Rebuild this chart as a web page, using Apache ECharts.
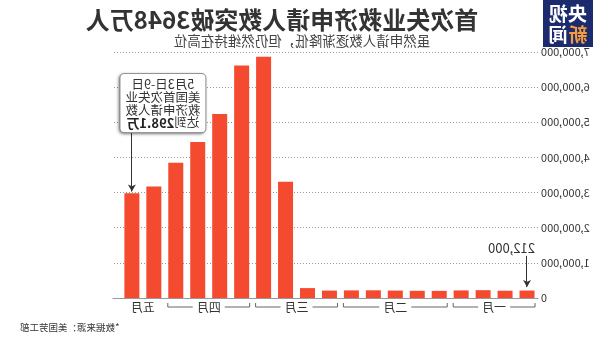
<!DOCTYPE html>
<html>
<head>
<meta charset="utf-8">
<script src="https://cdn.jsdelivr.net/npm/echarts@6/dist/echarts.min.js"></script>
<style>
  html, body { margin: 0; padding: 0; background: #fff; }
  /* the whole graphic is shown mirrored left-to-right */
  #chart { width: 600px; height: 337px; transform: scaleX(-1); }
</style>
</head>
<body>
<div id="chart"></div>
<script>
// Weekly initial jobless claims, US, 2020 (week ending)
const weeks = ['1月4日','1月11日','1月18日','1月25日','2月1日','2月8日','2月15日','2月22日','2月29日',
  '3月7日','3月14日','3月21日','3月28日','4月4日','4月11日','4月18日','4月25日','5月2日','5月9日'];
const claims = [212000, 207000, 223000, 216000, 203000, 205000, 211000, 219000, 217000,
  211000, 282000, 3307000, 6867000, 6615000, 5237000, 4442000, 3846000, 3176000, 2981000];

// month groups: first week index, last week index, label
const monthStart = [0, 4, 9, 13, 17];
const monthEnd   = [3, 8, 12, 16, 18];
const monthNames = ['一月', '二月', '三月', '四月', '五月'];

const yTicks = [0, 1000000, 2000000, 3000000, 4000000, 5000000, 6000000, 7000000];

const titleText = '首次失业救济申请人数突破3648万人';
const subtitleText = '虽然申请人数逐渐降低，但仍然维持在高位';
const sourceText = '*数据来源：美国劳工部';

// callouts
const calloutWeek = 18;
const calloutLines = ['5月3日-9日', '美国首次失业', '救济申请人数'];
const calloutPrefix = '达到';
const calloutValue = '298.1万';
const firstWeekLabel = '212,000';

const BAR = '#f44a30';
const FONT = '"Noto Sans CJK SC", "Noto Sans", sans-serif';

const chart = echarts.init(document.getElementById('chart'));

const monthData = monthStart.map((s, i) => [s, monthEnd[i], 0, i]);

chart.setOption({
  backgroundColor: '#fff',
  animation: false,
  textStyle: { fontFamily: FONT },
  title: [
    { text: titleText, left: 313, top: 3, textAlign: 'center',
      textStyle: { fontSize: 24, fontWeight: 'bold', color: '#333', fontFamily: FONT } },
    { text: subtitleText, left: 293, top: 29, textAlign: 'center',
      textStyle: { fontSize: 13.5, fontWeight: 'normal', color: '#444', fontFamily: FONT } },
    { text: sourceText, right: 15, top: 318,
      textStyle: { fontSize: 9.5, fontWeight: 'normal', color: '#333', fontFamily: FONT } }
  ],
  graphic: [{
    type: 'group', left: 7, top: 0,
    children: [
      { type: 'rect', shape: { x: 0, y: 0, width: 50, height: 47 }, style: { fill: '#1c2b6e' } },
      { type: 'text', x: 25, y: 14, style: { text: '央视', fill: '#fff', font: 'bold 19px ' + FONT, align: 'center', verticalAlign: 'middle' } },
      { type: 'text', x: 15, y: 35, style: { text: '新', fill: '#f59b3a', font: 'bold 19px ' + FONT, align: 'center', verticalAlign: 'middle' } },
      { type: 'text', x: 35, y: 35, style: { text: '闻', fill: '#fff', font: 'bold 19px ' + FONT, align: 'center', verticalAlign: 'middle' } }
    ]
  }],
  grid: { left: 62, right: 113, top: 52, bottom: 39 },
  xAxis: {
    type: 'value', min: -0.5, max: 18.86,
    axisLine: { show: true, onZero: false, lineStyle: { color: '#999', width: 1 } },
    axisTick: { show: false }, axisLabel: { show: false }, splitLine: { show: false }
  },
  yAxis: {
    type: 'value', min: yTicks[0], max: yTicks[yTicks.length - 1], interval: 1000000,
    axisLine: { show: false, onZero: false }, axisTick: { show: false },
    axisLabel: { margin: 3, fontSize: 11, color: '#333', fontFamily: FONT,
      showMinLabel: true, showMaxLabel: true,
      formatter: v => v.toLocaleString('en-US') },
    splitLine: { lineStyle: { type: [1, 2], color: '#999', width: 1 } }
  },
  series: [
    {
      type: 'bar',
      data: claims.map((v, i) => [i, v]),
      barWidth: 15,
      itemStyle: { color: BAR },
      markPoint: {
        symbol: 'circle', symbolSize: 0, silent: true,
        data: [
          {
            coord: [calloutWeek, 4720000],
            label: {
              show: true, position: 'top', distance: 0, offset: [-31, 0],
              formatter: calloutLines.map(t => '{a|' + t + '}').join('\n') +
                '\n{a|' + calloutPrefix + '}{b|' + calloutValue + '}',
              backgroundColor: '#fff', borderColor: '#9a9a9a', borderWidth: 1, borderRadius: 4,
              padding: [4, 5, 3, 5],
              shadowColor: 'rgba(0,0,0,0.35)', shadowBlur: 3, shadowOffsetX: 1, shadowOffsetY: 1,
              rich: {
                a: { fontSize: 12.5, lineHeight: 12.8, color: '#333', fontFamily: FONT },
                b: { fontSize: 13, lineHeight: 12.8, color: '#222', fontWeight: 'bold', fontFamily: FONT }
              }
            }
          },
          {
            coord: [0, 1430000],
            label: {
              show: true, position: 'right', distance: 0, offset: [-8, 0],
              formatter: firstWeekLabel, fontSize: 13, color: '#333', fontFamily: FONT
            }
          }
        ]
      },
      markLine: {
        silent: true, symbol: ['none', 'arrow'], symbolSize: [6, 7],
        label: { show: false },
        lineStyle: { color: '#333', width: 1, type: 'solid' },
        data: [
          [{ coord: [calloutWeek, 4720000] }, { coord: [calloutWeek, 3030000] }],
          [{ coord: [0, 1200000] }, { coord: [0, 310000] }]
        ]
      }
    },
    {
      type: 'custom',
      clip: false,
      silent: true,
      data: monthData,
      encode: { x: [0, 1], y: 2 },
      renderItem: function (params, api) {
        const a = api.coord([api.value(0), 0]);
        const b = api.coord([api.value(1), 0]);
        const name = monthNames[api.value(3)];
        const x0 = a[0] - 8, x1 = b[0] + 8, y = a[1] + 9;
        const cx = (x0 + x1) / 2;
        const children = [{
          type: 'text', x: cx, y: y,
          style: { text: name, font: '12px ' + FONT, fill: '#333', align: 'center', verticalAlign: 'middle' }
        }];
        if (x1 - x0 > 60) {
          const half = 11 + 5;
          const ls = { stroke: '#666', lineWidth: 1 };
          children.push(
            { type: 'line', shape: { x1: x0, y1: y, x2: cx - half, y2: y }, style: ls },
            { type: 'line', shape: { x1: cx + half, y1: y, x2: x1, y2: y }, style: ls },
            { type: 'line', shape: { x1: x0, y1: y - 4, x2: x0, y2: y }, style: ls },
            { type: 'line', shape: { x1: x1, y1: y - 4, x2: x1, y2: y }, style: ls }
          );
        }
        return { type: 'group', children: children };
      }
    }
  ]
});
</script>
</body>
</html>
